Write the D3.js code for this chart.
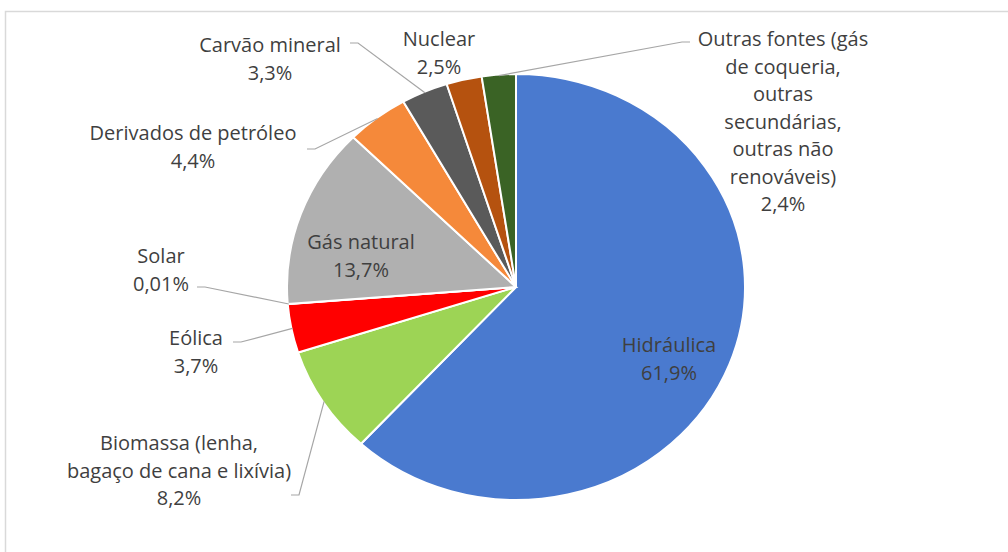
<!DOCTYPE html>
<meta charset="utf-8">
<html>
<head>
<style>
body { margin: 0; background: #fff; }
text {
  font: 20px "Open Sans", sans-serif;
  fill: #3f3f3f;
  text-anchor: middle;
}
.leader { fill: none; stroke: #a6a6a6; stroke-width: 1.2; }
.frame { fill: none; stroke: #d9d9d9; stroke-width: 1.5; }
</style>
<script src="https://cdn.jsdelivr.net/npm/d3@7"></script>
</head>
<body>
<svg width="1008" height="552"></svg>
<script>
// data, clockwise from 12 o'clock
var categories = ["Hidráulica", "Biomassa (lenha,|bagaço de cana e lixívia)", "Eólica", "Solar",
  "Gás natural", "Derivados de petróleo", "Carvão mineral", "Nuclear",
  "Outras fontes (gás|de coqueria,|outras|secundárias,|outras não|renováveis)"];
var shares = [61.9, 8.2, 3.7, 0.01, 13.7, 4.4, 3.3, 2.5, 2.4];
var colors = ["#4a7acf", "#9dd455", "#ff0000", "#ffc000", "#b0b0b0", "#f5893a", "#5a5a5a", "#b5520f", "#3a6325"];

// label placement (text centre x, first baseline y, leader start) -- layout only
var labelPos = [
  {x: 669, y: 352},
  {x: 179, y: 450, lx: 291, ly: 495, side: "left"},
  {x: 196, y: 345, lx: 233, ly: 342, side: "left"},
  {x: 161, y: 263, lx: 197, ly: 287, side: "left"},
  {x: 361, y: 249},
  {x: 193, y: 140, lx: 307, ly: 149, side: "left"},
  {x: 270, y: 52, lx: 350, ly: 43, side: "left"},
  {x: 439, y: 46},
  {x: 783, y: 46, lx: 690, ly: 42, side: "right"}
];

var svg = d3.select("svg");
svg.append("path").attr("class", "frame").attr("d", "M5.5,552V11.5H1008");

var cx = 516, cy = 287, r = 213, sx = 229 / 213;
var pie = d3.pie().sort(null).value(function(d) { return d; });
var arc = d3.arc().innerRadius(0).outerRadius(r);
var arcs = pie(shares);

var g = svg.append("g").attr("transform", "translate(" + cx + "," + cy + ") scale(" + sx + ",1)");
g.selectAll("path.slice")
  .data(arcs)
  .enter().append("path")
    .attr("class", "slice")
    .attr("d", arc)
    .attr("fill", function(d, i) { return colors[i]; })
    .attr("stroke", "#fff")
    .attr("stroke-width", 2)
    .attr("vector-effect", "non-scaling-stroke");

function fmt(v) { return String(v).replace(".", ",") + "%"; }

// leader lines
arcs.forEach(function(d, i) {
  var p = labelPos[i];
  if (p.lx === undefined) return;
  var a = (d.startAngle + d.endAngle) / 2;
  var ex = cx + sx * (r - 1) * Math.sin(a), ey = cy - (r - 1) * Math.cos(a);
  var hx = p.side === "left" ? p.lx + 8 : p.lx - 8;
  svg.append("path").attr("class", "leader")
    .attr("d", "M" + p.lx + "," + p.ly + "H" + hx + "L" + ex + "," + ey);
});

// labels
categories.forEach(function(c, i) {
  var p = labelPos[i];
  var lines = c.split("|").concat([fmt(shares[i])]);
  var t = svg.append("text").attr("x", p.x).attr("y", p.y);
  lines.forEach(function(l, k) {
    t.append("tspan").attr("x", p.x).attr("y", p.y + k * 27.5).text(l);
  });
});
</script>
</body>
</html>
